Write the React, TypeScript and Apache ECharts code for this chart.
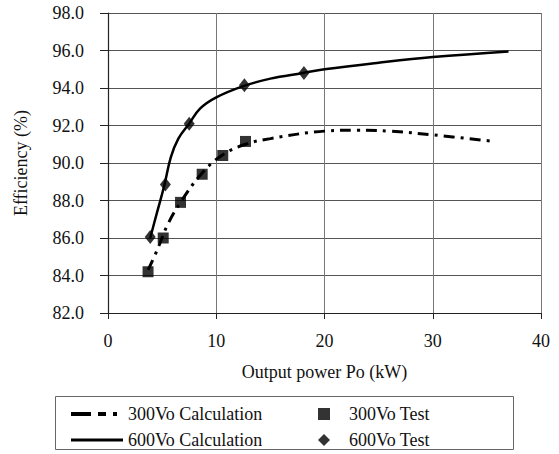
import React, { useEffect, useRef } from "react";
import * as echarts from "echarts";

const xTicks = [0, 10, 20, 30, 40];
const yTicks = [82, 84, 86, 88, 90, 92, 94, 96, 98];

const calc300: [number, number][] = [
  [3.7, 84.3], [4.5, 85.3], [5.5, 86.7], [6.7, 87.9], [8.6, 89.4], [10.5, 90.4],
  [12.7, 91.0], [15, 91.3], [20, 91.7], [23, 91.75], [26, 91.7], [30, 91.5], [35.7, 91.15],
];
const calc600: [number, number][] = [
  [3.9, 86.0], [4.5, 87.3], [5.2, 88.8], [5.8, 90.3], [6.5, 91.3], [7.5, 92.1],
  [8.5, 92.9], [10, 93.5], [12.5, 94.1], [15, 94.5], [18, 94.8], [20, 95.0],
  [25, 95.35], [30, 95.65], [37, 95.95],
];
const test300: [number, number][] = [
  [3.7, 84.2], [5.1, 86.0], [6.7, 87.9], [8.7, 89.4], [10.6, 90.4], [12.7, 91.15],
];
const test600: [number, number][] = [
  [3.9, 86.05], [5.3, 88.85], [7.5, 92.1], [12.6, 94.15], [18.1, 94.8],
];

const FONT = "Liberation Serif";
const FS = 18;

export default function App() {
  const ref = useRef<HTMLDivElement>(null);
  useEffect(() => {
    if (!ref.current) return;
    const chart = echarts.init(ref.current, undefined, { renderer: "svg" });
    chart.setOption({
      animation: false,
      backgroundColor: "#ffffff",
      textStyle: { fontFamily: FONT },
      grid: { left: 108, right: 18, top: 13, bottom: 141 },
      xAxis: {
        type: "value",
        min: xTicks[0],
        max: xTicks[xTicks.length - 1],
        interval: 10,
        name: "Output power Po (kW)",
        nameLocation: "middle",
        nameGap: 50,
        nameTextStyle: { fontFamily: FONT, fontSize: FS, color: "#111" },
        axisLine: { lineStyle: { color: "#222", width: 1.2 } },
        axisTick: { show: true, length: 6, lineStyle: { color: "#222" } },
        axisLabel: { fontFamily: FONT, fontSize: FS, color: "#111", margin: 19 },
        splitLine: { show: true, lineStyle: { color: "#777", width: 1 } },
      },
      yAxis: {
        type: "value",
        min: yTicks[0],
        max: yTicks[yTicks.length - 1],
        interval: 2,
        name: "Efficiency (%)",
        nameLocation: "middle",
        nameGap: 78,
        nameRotate: 90,
        nameTextStyle: { fontFamily: FONT, fontSize: FS, color: "#111" },
        axisLine: { show: true, lineStyle: { color: "#222", width: 1.2 } },
        axisTick: { show: true, length: 8, lineStyle: { color: "#222" } },
        axisLabel: {
          fontFamily: FONT,
          fontSize: FS,
          color: "#111",
          margin: 24,
          formatter: (v: number) => v.toFixed(1),
        },
        splitLine: { show: true, lineStyle: { color: "#555", width: 1 } },
      },
      legend: [
        {
          orient: "vertical",
          left: 66,
          top: 400,
          itemWidth: 52,
          itemHeight: 12,
          itemGap: 8,
          symbolKeepAspect: true,
          textStyle: { fontFamily: FONT, fontSize: FS, color: "#111" },
          data: [
            {
              name: "300Vo Calculation",
              icon: "path://M0,0h20v4h-20z M27,0h8v4h-8z M42,0h4v4h-4z M46,0h6v0.01h-6z",
            },
            { name: "600Vo Calculation", icon: "path://M0,0h52v3h-52z" },
          ],
        },
        {
          orient: "vertical",
          left: 313,
          top: 400,
          itemWidth: 40,
          itemHeight: 12,
          itemGap: 8,
          symbolKeepAspect: true,
          textStyle: { fontFamily: FONT, fontSize: FS, color: "#111" },
          data: [
            { name: "300Vo Test", icon: "path://M0,0h10v10h-10z" },
            { name: "600Vo Test", icon: "path://M6,0L12,6L6,12L0,6z" },
          ],
        },
      ],
      graphic: [
        {
          type: "rect",
          shape: { x: 55.5, y: 396.5, width: 458, height: 53 },
          style: { fill: "none", stroke: "#666", lineWidth: 1 },
          silent: true,
        },
      ],
      series: [
        {
          name: "300Vo Calculation",
          type: "line",
          data: calc300,
          smooth: 0.4,
          symbol: "none",
          lineStyle: { color: "#000", width: 3, type: [11, 6, 3, 6] },
          itemStyle: { color: "#000" },
        },
        {
          name: "600Vo Calculation",
          type: "line",
          data: calc600,
          smooth: 0.4,
          symbol: "none",
          lineStyle: { color: "#000", width: 2.5, type: "solid" },
          itemStyle: { color: "#000" },
        },
        {
          name: "300Vo Test",
          type: "scatter",
          data: test300,
          symbol: "rect",
          symbolSize: 11,
          itemStyle: { color: "#000" },
        },
        {
          name: "600Vo Test",
          type: "scatter",
          data: test600,
          symbol: "diamond",
          symbolSize: [11, 14],
          itemStyle: { color: "#000" },
        },
      ],
    });
    return () => chart.dispose();
  }, []);
  return <div ref={ref} style={{ width: 559, height: 454, position: "absolute", left: 0, top: 0 }} />;
}
